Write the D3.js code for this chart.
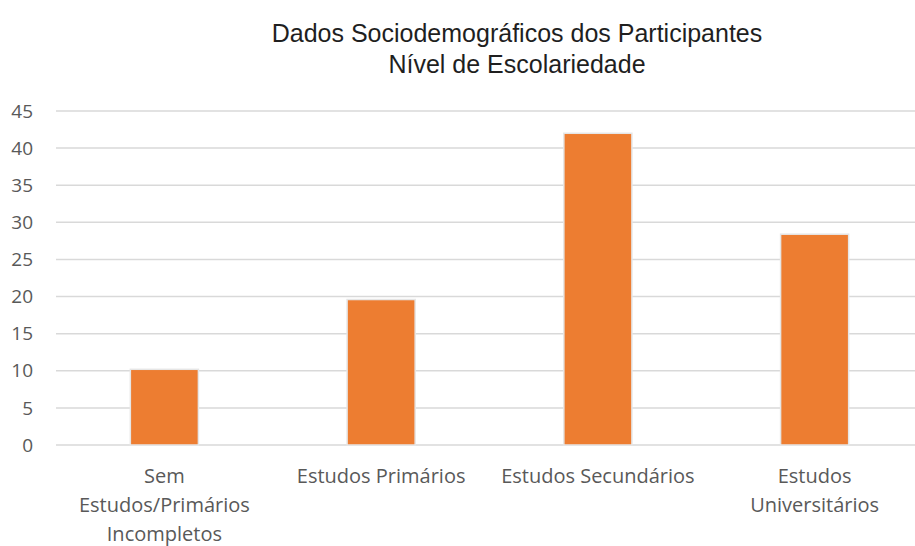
<!DOCTYPE html>
<html>
<head>
<meta charset="utf-8">
<script src="https://cdnjs.cloudflare.com/ajax/libs/d3/7.8.5/d3.min.js"></script>
<style>
  body { margin: 0; background: #fff; }
  svg { display: block; }
</style>
</head>
<body>
<script>
// data
var categories = [
  ["Sem", "Estudos/Primários", "Incompletos"],
  ["Estudos Primários"],
  ["Estudos Secundários"],
  ["Estudos", "Universitários"]
];
var values = [10.2, 19.6, 42, 28.4];
var yTicks = [0, 5, 10, 15, 20, 25, 30, 35, 40, 45];
var titleLines = ["Dados Sociodemográficos dos Participantes", "Nível de Escolariedade"];

var width = 915,
    height = 546;
var margin = {top: 111, left: 56, bottom: 101};
var plotRight = 923;

var svg = d3.select("body").append("svg")
    .attr("width", width)
    .attr("height", height);

var x = d3.scaleBand()
    .domain(d3.range(categories.length))
    .range([margin.left, plotRight])
    .paddingInner(0.686)
    .paddingOuter(0.343);

var y = d3.scaleLinear()
    .domain([0, 45])
    .range([height - margin.bottom, margin.top]);

// gridlines
svg.append("g")
  .selectAll("line")
  .data(yTicks)
  .enter().append("line")
    .attr("x1", margin.left)
    .attr("x2", plotRight)
    .attr("y1", function(d){ return y(d); })
    .attr("y2", function(d){ return y(d); })
    .attr("stroke", "#d9d9d9")
    .attr("stroke-width", 1.5);

// y labels
svg.append("g")
  .selectAll("text")
  .data(yTicks)
  .enter().append("text")
    .attr("x", 33)
    .attr("y", function(d){ return y(d); })
    .attr("dy", "0.35em")
    .attr("text-anchor", "end")
    .attr("font-family", "Open Sans, sans-serif")
    .attr("font-size", 19)
    .attr("fill", "#595959")
    .text(function(d){ return d; });

// bars
svg.append("g")
  .selectAll("rect")
  .data(values)
  .enter().append("rect")
    .attr("x", function(d, i){ return x(i); })
    .attr("width", x.bandwidth())
    .attr("y", function(d){ return y(d); })
    .attr("height", function(d){ return y(0) - y(d); })
    .attr("fill", "#ed7d31")
    .attr("stroke", "#e6e6e6")
    .attr("stroke-width", 1.5);

// x labels
var xl = svg.append("g")
  .selectAll("text")
  .data(categories)
  .enter().append("text")
    .attr("x", function(d, i){ return x(i) + x.bandwidth() / 2; })
    .attr("y", 483)
    .attr("text-anchor", "middle")
    .attr("font-family", "Open Sans, sans-serif")
    .attr("font-size", 20)
    .attr("fill", "#595959");
xl.selectAll("tspan")
  .data(function(d){ return d; })
  .enter().append("tspan")
    .attr("x", function(){ return d3.select(this.parentNode).attr("x"); })
    .attr("dy", function(d, i){ return i === 0 ? 0 : 29; })
    .text(function(d){ return d; });

// title
svg.append("g")
  .selectAll("text")
  .data(titleLines)
  .enter().append("text")
    .attr("x", 517)
    .attr("y", function(d, i){ return 42 + i * 31; })
    .attr("text-anchor", "middle")
    .attr("font-family", "Liberation Sans, Arial, sans-serif")
    .attr("font-size", 25)
    .attr("fill", "#1f1f1f")
    .text(function(d){ return d; });
</script>
</body>
</html>
